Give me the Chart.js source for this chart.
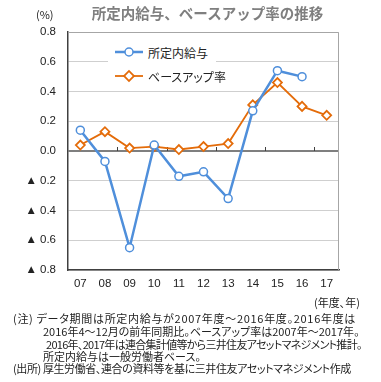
<!DOCTYPE html>
<html>
<head>
<meta charset="utf-8">
<script src="https://cdn.jsdelivr.net/npm/chart.js@4.4.0/dist/chart.umd.min.js"></script>
<style>
  body { margin: 0; background: #fff; }
  #wrap { position: relative; width: 381px; height: 382px; overflow: hidden;
          font-family: "Noto Sans CJK JP", sans-serif; font-feature-settings: "palt"; color: #222; }
  #wrap canvas { position: absolute; left: 0; top: 0; }
  .txt { position: absolute; white-space: pre; line-height: 1; }
  #title { left: 0; width: 381px; top: 6px; padding-left: 34px; box-sizing: border-box; text-align: center;
           font-size: 14.5px; font-weight: bold; color: #7f7f7f; font-feature-settings: normal; }
  #unit { left: 36px; top: 9px; font-size: 11px; }
  #xunit { left: 314px; top: 297px; font-size: 11px; }
  .note { font-size: 11px; left: 13px; }
  #legend { position: absolute; left: 108px; top: 39px; width: 108px; height: 48px; background: #fff; }
  .lg { position: absolute; left: 6px; height: 14px; font-size: 12px; }
  .lg svg { position: absolute; left: 0; top: 0; }
  .lg span { position: absolute; left: 34px; top: -1px; white-space: nowrap; }
</style>
</head>
<body>
<div id="wrap">
  <canvas id="chart" width="381" height="382"></canvas>
  <div class="txt" id="title">所定内給与、ベースアップ率の推移</div>
  <div class="txt" id="unit">(%)</div>
  <div id="legend">
    <div class="lg" style="top:6px">
      <svg width="30" height="14"><line x1="1" y1="7" x2="29" y2="7" stroke="#4f8fdb" stroke-width="2.5"/><circle cx="15" cy="7" r="4" fill="#fff" stroke="#4f8fdb" stroke-width="1.5"/></svg>
      <span>所定内給与</span>
    </div>
    <div class="lg" style="top:30px">
      <svg width="30" height="14"><line x1="1" y1="7" x2="29" y2="7" stroke="#e46c0a" stroke-width="1.8"/><rect x="11.5" y="3.5" width="7" height="7" transform="rotate(45 15 7)" fill="#fff" stroke="#e46c0a" stroke-width="1.8"/></svg>
      <span>ベースアップ率</span>
    </div>
  </div>
  <div class="txt" id="xunit">(年度、年)</div>
  <div class="txt note" style="top:313px; letter-spacing:0.7px">(注) データ期間は所定内給与が2007年度～2016年度。2016年度は</div>
  <div class="txt note" style="top:326px; left:43px">2016年4～12月の前年同期比。ベースアップ率は2007年～2017年。</div>
  <div class="txt note" style="top:339px; left:46px; letter-spacing:-0.7px">2016年、2017年は連合集計値等から三井住友アセットマネジメント推計。</div>
  <div class="txt note" style="top:351px; left:43px">所定内給与は一般労働者ベース。</div>
  <div class="txt note" style="top:363px; letter-spacing:-0.4px">(出所) 厚生労働省、連合の資料等を基に三井住友アセットマネジメント作成</div>
</div>
<script>
// 年度ラベルと各系列の値 (%)
const years = ["07", "08", "09", "10", "11", "12", "13", "14", "15", "16", "17"];
const baseSalary = [0.14, -0.07, -0.65, 0.04, -0.17, -0.14, -0.32, 0.27, 0.54, 0.50, null];
const baseUp = [0.04, 0.13, 0.02, 0.03, 0.01, 0.03, 0.05, 0.31, 0.46, 0.30, 0.24];

// ゼロ線上の目盛り(2年おき)と枠線
const framePlugin = {
    id: "frame",
    beforeDatasetsDraw(chart) {
        const { ctx, chartArea: a, scales: { x, y } } = chart;
        ctx.save();
        ctx.strokeStyle = "#a6a6a6";
        ctx.lineWidth = 1;
        ctx.beginPath();
        ctx.moveTo(a.left, a.top + 0.5);
        ctx.lineTo(a.right - 0.5, a.top + 0.5);
        ctx.lineTo(a.right - 0.5, a.bottom);
        ctx.stroke();
        const y0 = Math.round(y.getPixelForValue(0));
        ctx.strokeStyle = "#404040";
        ctx.beginPath();
        for (let i = 1; i < years.length - 1; i += 2) {
            const px = Math.round((x.getPixelForValue(i) + x.getPixelForValue(i + 1)) / 2) + 0.5;
            ctx.moveTo(px, y0);
            ctx.lineTo(px, y0 - 4);
        }
        ctx.stroke();
        ctx.restore();
    }
};

const ctx = document.getElementById("chart").getContext("2d");
new Chart(ctx, {
    type: "line",
    data: {
        labels: years,
        datasets: [
            {
                label: "所定内給与",
                data: baseSalary,
                borderColor: "#4f8fdb",
                borderWidth: 2.5,
                pointStyle: "circle",
                pointRadius: 4,
                pointBorderWidth: 1.5,
                pointBackgroundColor: "#fff",
                pointBorderColor: "#4f8fdb",
                tension: 0
            },
            {
                label: "ベースアップ率",
                data: baseUp,
                borderColor: "#e46c0a",
                borderWidth: 1.8,
                pointStyle: "rectRot",
                pointRadius: 4.5,
                pointBorderWidth: 1.8,
                pointBackgroundColor: "#fff",
                pointBorderColor: "#e46c0a",
                tension: 0
            }
        ]
    },
    options: {
        responsive: false,
        animation: false,
        layout: { padding: { top: 32, right: 42, bottom: 92, left: 0 } },
        plugins: {
            legend: { display: false },
            tooltip: { enabled: false }
        },
        scales: {
            x: {
                offset: true,
                grid: { display: false, drawTicks: false },
                border: { display: true, color: "#404040", width: 1.5 },
                ticks: {
                    color: "#222",
                    padding: 7,
                    maxRotation: 0,
                    font: { family: "Liberation Sans", size: 11.5 }
                },
                afterFit(scale) { scale.height = 20; }
            },
            y: {
                min: -0.8,
                max: 0.8,
                grid: {
                    drawTicks: false,
                    color: c => c.tick.value === 0 ? "#7f7f7f" : "#cfcfcf",
                    lineWidth: c => c.tick.value === 0 ? 2 : 1
                },
                border: { display: true, color: "#404040", width: 1.5 },
                ticks: {
                    stepSize: 0.2,
                    color: "#222",
                    padding: 12,
                    font: { family: "Liberation Sans", size: 11.5 },
                    callback: v => {
                        const r = Math.round(v * 10) / 10;
                        return r < 0 ? "▲ " + Math.abs(r).toFixed(1) : r.toFixed(1);
                    }
                },
                afterFit(scale) { scale.width = 68; }
            }
        }
    },
    plugins: [framePlugin]
});
</script>
</body>
</html>
